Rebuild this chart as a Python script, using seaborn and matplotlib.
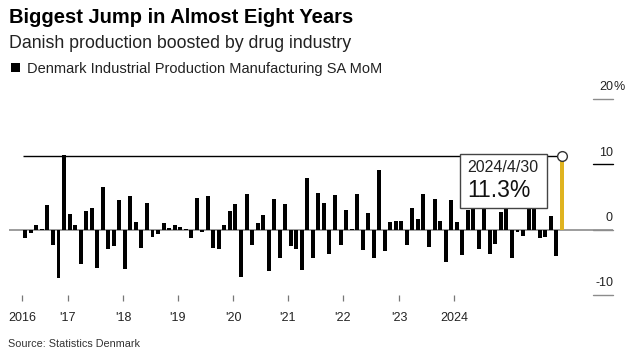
import numpy as np
import pandas as pd
import matplotlib
matplotlib.use('Agg')
import matplotlib.pyplot as plt
import seaborn as sns
from matplotlib.patches import Rectangle

# Month-on-month change, %
mom_change = [
    -1.3, -0.5, 0.7, 0.1, 3.7, -2.4, -7.4, 11.5, 2.4, 0.7,
    -5.3, 2.8, 3.3, -5.9, 6.5, -2.95, -2.45, 4.5, -6.0, 5.2,
    1.2, -2.8, 4.1, -1.15, -0.6, 1.0, 0.25, 0.7, 0.45, 0.1,
    -1.3, 4.9, -0.4, 5.2, -2.8, -3.0, 0.75, 2.9, 3.9, -7.2,
    5.5, -2.3, 1.0, 2.3, -6.4, 4.7, -4.35, 4.0, -2.45, -2.95,
    -6.15, 7.9, -4.4, 5.6, 4.05, -3.8, 5.35, -2.3, 2.95, 0.15,
    5.4, -3.05, 2.6, -4.3, 9.15, -3.2, 1.15, 1.35, 1.35, -2.3,
    3.3, 1.7, 5.5, -2.65, 4.7, 1.35, -4.95, 4.6, 1.15, -3.85,
    2.95, 4.0, -2.9, 3.8, -3.8, -2.15, 2.65, 4.2, -4.3, -0.4,
    -1.0, 3.8, 3.6, -1.25, -1.15, 2.05, -4.05, 11.3,
]
year_labels = ['2016', "'17", "'18", "'19", "'20", "'21", "'22", "'23", '2024']
year_pos = [-0.6, 7.7, 17.7, 27.6, 37.6, 47.5, 57.4, 67.6, 77.5]
y_ticks = [20, 10, 0, -10]
latest_label = '2024/4/30'

df = pd.DataFrame({'idx': np.arange(len(mom_change)), 'value': mom_change})
df['kind'] = 'past'
df.loc[df.index[-1], 'kind'] = 'latest'

YELLOW = '#FFC400'
GREY = '#8c8c8c'
FONT = 'Liberation Sans'

sns.set_theme(style='white')
plt.rcParams['font.family'] = [FONT, 'DejaVu Sans']

fig = plt.figure(figsize=(6.27, 3.6), dpi=100)
W, H = 627, 360
ax = fig.add_axes([9 / W, 1 - 295 / H, (613 - 9) / W, (295 - 99) / H])

ax.axhline(0, color=GREY, lw=1.2, zorder=1)
sns.barplot(data=df, x='idx', y='value', hue='kind', native_scale=True,
            palette={'past': 'black', 'latest': YELLOW}, dodge=False,
            width=0.72, errorbar=None, legend=False, ax=ax, zorder=2,
            linewidth=0)

last_x, last_y = df['idx'].iloc[-1], df['value'].iloc[-1]
ax.hlines(last_y, -0.37, last_x, color='black', lw=1.0, zorder=3)
ax.plot(last_x, last_y, 'o', ms=7, mfc='white', mec='#333333', mew=1.0, zorder=6)

ax.set_xlim(-2.95, 106.27)
ax.set_ylim(-10, 20)
sns.despine(ax=ax, left=True, bottom=True, right=True, top=True)
ax.set_xlabel('')
ax.set_ylabel('')
ax.set_yticks([])
ax.set_xticks(year_pos)
ax.set_xticklabels(year_labels, fontsize=9, color='#222222')
ax.tick_params(axis='x', bottom=True, length=4, width=0.9, color='#777777', pad=8)

# right-hand value labels sitting on short rules
tr = ax.get_yaxis_transform()
for v in y_ticks:
    ax.plot([0.967, 1.0], [v, v], transform=tr, color='black' if v == 10 else GREY,
            lw=1.0, clip_on=False)
    ax.annotate(str(v), xy=(1.0, v), xycoords=tr, xytext=(0, 4), textcoords='offset points',
                ha='right', va='bottom', fontsize=9, color='#222222', annotation_clip=False)
    if v == 20:
        ax.annotate('%', xy=(1.0, v), xycoords=tr, xytext=(0, 4), textcoords='offset points',
                    ha='left', va='bottom', fontsize=9, color='#222222', annotation_clip=False)

# callout box for the latest reading
ax.add_patch(Rectangle((78.6, 3.36), 94.3 - 78.6, 11.6 - 3.36, facecolor='white',
                       edgecolor='#444444', lw=1.0, zorder=5))
ax.text(80.0, 8.8, latest_label, fontsize=11.5, color='#222222', zorder=6)
ax.text(80.0, 5.0, f'{last_y:.1f}%', fontsize=16.5, color='#111111', zorder=6)

fig.text(9 / W, 1 - 22.7 / H, 'Biggest Jump in Almost Eight Years', fontsize=14.5,
         fontweight='bold', color='black', va='baseline')
fig.text(9 / W, 1 - 48 / H, 'Danish production boosted by drug industry', fontsize=12.8,
         color='#222222', va='baseline')
fig.patches.append(Rectangle((11 / W, 1 - 72 / H), 9 / W, 9 / H, transform=fig.transFigure,
                             facecolor='black', edgecolor='none'))
fig.text(27 / W, 1 - 72.7 / H, 'Denmark Industrial Production Manufacturing SA MoM',
         fontsize=10.5, color='#222222', va='baseline')
fig.text(8 / W, 1 - 347 / H, 'Source: Statistics Denmark', fontsize=7.8,
         color='#333333', va='baseline')

plt.savefig('out.png', dpi=100)
plt.close()
